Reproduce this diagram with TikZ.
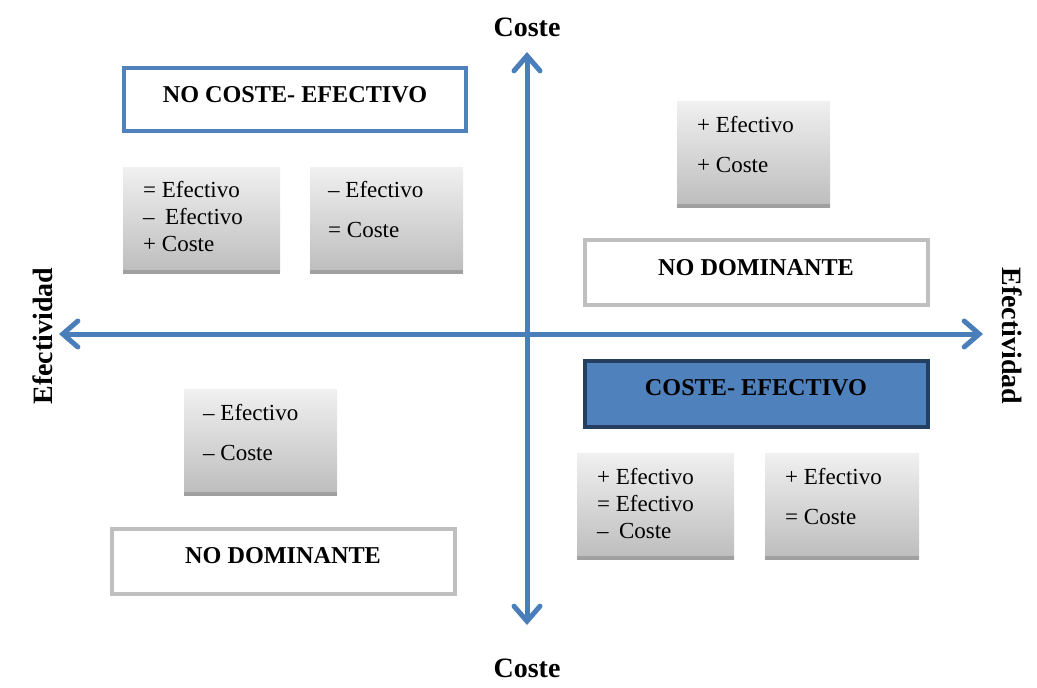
\documentclass[tikz,border=0pt]{standalone}
\usepackage{fontspec}
\setmainfont{Liberation Serif}
\usetikzlibrary{arrows.meta}
\definecolor{axisblue}{HTML}{4A7EBB}
\definecolor{boxblue}{HTML}{4F81BD}
\definecolor{navy}{HTML}{243F60}
\definecolor{lgray}{HTML}{BFBFBF}
\definecolor{gtop}{HTML}{F0F0F0}
\definecolor{gbot}{HTML}{BDBDBD}
\definecolor{gshadow}{HTML}{A0A0A0}
\tikzset{
  axis/.style={draw=axisblue, line width=5pt, line cap=round, arrows={Straight Barb[length=15pt,width=26pt,line cap=round]-Straight Barb[length=15pt,width=26pt,line cap=round]}},
  axislabel/.style={font=\fontsize{28}{32}\selectfont\bfseries, inner sep=0pt},
  bigbox/.style={rectangle, line width=4pt, inner sep=0pt},
  bigtext/.style={font=\fontsize{24.2}{28}\selectfont\bfseries, inner sep=0pt},
  graybox/.style={rectangle, top color=gtop, bottom color=gbot, draw=none, inner sep=0pt},
  graytext/.style={font=\fontsize{23}{27}\selectfont, align=left, anchor=north west, inner sep=0pt},
  shadowline/.style={draw=gshadow, line width=4pt}
}
\begin{document}
\begin{tikzpicture}[x=1pt, y=-1pt]
\useasboundingbox (0,0) rectangle (1037,688);
% axes
\coordinate (ytop) at (527,52);
\coordinate (ybot) at (527,625);
\coordinate (xleft) at (59,334);
\coordinate (xright) at (983,334);
\draw[axis] (ybot) -- (ytop);
\draw[axis] (xleft) -- (xright);
\node[axislabel] (ct) at (527,27) {Coste};
\node[axislabel] (cb) at (527,668) {Coste};
\node[axislabel, rotate=90] (el) at (43,336) {Efectividad};
\node[axislabel, rotate=-90] (er) at (1012,336) {Efectividad};
% NO COSTE- EFECTIVO
\draw[bigbox, draw=boxblue, fill=white] (124,68) rectangle (466,131);
\node[bigtext] (nce) at (295,95) {NO COSTE- EFECTIVO};
% box 1
\node[graybox, minimum width=157pt, minimum height=105pt] (g1) at (201.5,219.5) {};
\draw[shadowline] (g1.south west) -- (g1.south east);
\node[graytext] (g1t) at (143,181.5) {= Efectivo\\–\hspace{0.45em}Efectivo\\+ Coste};
% box 2
\node[graybox, minimum width=153pt, minimum height=105pt] (g2) at (386.5,219.5) {};
\draw[shadowline] (g2.south west) -- (g2.south east);
\node[graytext] (g2t) at (328,181.5) {– Efectivo\\[13pt]= Coste};
% top right
\node[graybox, minimum width=153pt, minimum height=105pt] (g3) at (753.5,153.5) {};
\draw[shadowline] (g3.south west) -- (g3.south east);
\node[graytext] (g3t) at (697,116.5) {+ Efectivo\\[13pt]+ Coste};
% NO DOMINANTE right
\draw[bigbox, draw=lgray, fill=white] (585,240) rectangle (928,305);
\node[bigtext] (nd1) at (756,268) {NO DOMINANTE};
% COSTE- EFECTIVO
\draw[bigbox, draw=navy, fill=boxblue] (585,361) rectangle (928,427);
\node[bigtext] (ce) at (756,388) {COSTE- EFECTIVO};
% bottom right 1
\node[graybox, minimum width=157pt, minimum height=105pt] (g4) at (655.5,505.5) {};
\draw[shadowline] (g4.south west) -- (g4.south east);
\node[graytext] (g4t) at (597,468.5) {+ Efectivo\\= Efectivo\\–\hspace{0.45em}Coste};
% bottom right 2
\node[graybox, minimum width=154pt, minimum height=105pt] (g5) at (842,505.5) {};
\draw[shadowline] (g5.south west) -- (g5.south east);
\node[graytext] (g5t) at (785,468.5) {+ Efectivo\\[13pt]= Coste};
% bottom left gray
\node[graybox, minimum width=153pt, minimum height=105pt] (g6) at (260.5,441.5) {};
\draw[shadowline] (g6.south west) -- (g6.south east);
\node[graytext] (g6t) at (203,404.5) {– Efectivo\\[13pt]– Coste};
% NO DOMINANTE left
\draw[bigbox, draw=lgray, fill=white] (112,529) rectangle (455,594);
\node[bigtext] (nd2) at (283,556) {NO DOMINANTE};
\end{tikzpicture}
\end{document}
